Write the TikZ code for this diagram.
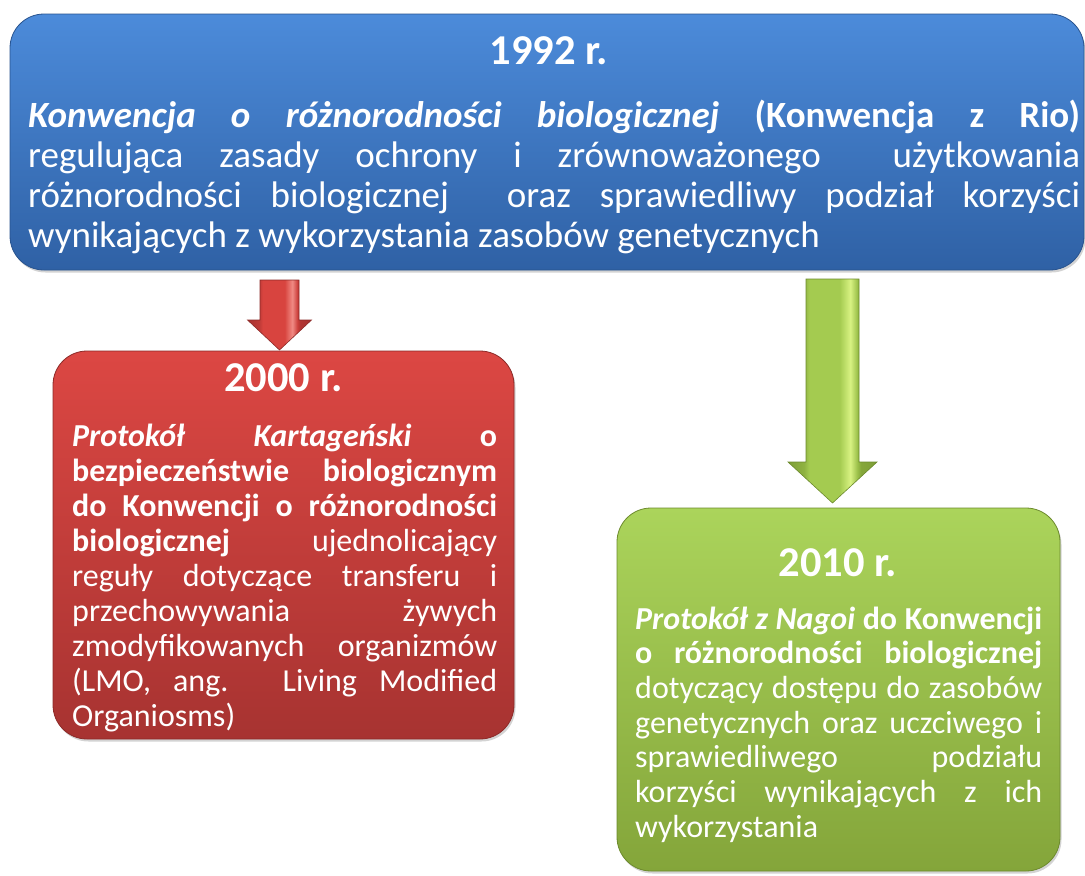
\documentclass[tikz,border=0pt]{standalone}
\usepackage{fontspec}
\setmainfont{Carlito}
\usetikzlibrary{calc,shadows}
\definecolor{bluetop}{HTML}{4C8BDA}
\definecolor{bluebot}{HTML}{2F61A5}
\definecolor{blueedge}{HTML}{28538E}
\definecolor{redtop}{HTML}{DC4743}
\definecolor{redbot}{HTML}{A73331}
\definecolor{rededge}{HTML}{8C2A28}
\definecolor{greentop}{HTML}{ABD45B}
\definecolor{greenbot}{HTML}{84A53A}
\definecolor{greenedge}{HTML}{6C8A2D}
\definecolor{ga}{HTML}{7E9E36}
\definecolor{gb}{HTML}{A4CB50}
\definecolor{gc}{HTML}{D8F282}
\definecolor{ra}{HTML}{A83230}
\definecolor{rb}{HTML}{D8443F}
\definecolor{rc}{HTML}{F08A84}
\pgfdeclarehorizontalshading{garrowshade}{100bp}{color(0bp)=(ga); color(25bp)=(ga); color(34bp)=(ga!55!gb); color(37bp)=(gb); color(54bp)=(gb); color(60bp)=(gc); color(64bp)=(gb!75!ga); color(66bp)=(ga!80!gb); color(75bp)=(ga); color(100bp)=(ga)}
\pgfdeclarehorizontalshading{rarrowshade}{100bp}{color(0bp)=(ra); color(25bp)=(ra); color(34bp)=(ra!55!rb); color(37bp)=(rb); color(54bp)=(rb); color(60bp)=(rc); color(64bp)=(rb!75!ra); color(66bp)=(ra!80!rb); color(75bp)=(ra); color(100bp)=(ra)}
\newlength\bw
\newcommand\jl[1]{\hbox to \bw{#1}}
\newcommand\lastline[1]{\hbox to \bw{#1\hfil}}
\tikzset{
  panel/.style={rounded corners=34pt, inner sep=0pt, line width=0.8pt,
    drop shadow={shadow xshift=1.5pt, shadow yshift=-2.5pt, opacity=0.35}},
  title/.style={anchor=base, inner sep=0pt, text=white,
    font=\fontsize{42.5}{46}\selectfont\bfseries},
  body/.style={anchor=base west, inner sep=0pt, text=white},
  redarrow/.style={shading=rarrowshade, draw=rededge, line width=0.6pt},
  greenarrow/.style={shading=garrowshade, draw=greenedge, line width=0.6pt}
}
\begin{document}
\begin{tikzpicture}[x=1pt,y=-1pt]
\useasboundingbox (0,0) rectangle (1085,876);
% boxes
\node[panel, top color=bluetop, bottom color=bluebot, draw=blueedge,
  minimum width=1074pt, minimum height=256pt] (top) at (547,142) {};
\node[panel, top color=redtop, bottom color=redbot, draw=rededge,
  minimum width=461pt, minimum height=388pt] (red) at (283.5,545) {};
\node[panel, top color=greentop, bottom color=greenbot, draw=greenedge,
  minimum width=443pt, minimum height=363pt] (green) at (838.5,689.5) {};
% arrows
\coordinate (ra1) at (279.5,280);
\coordinate (ra2) at (279.5,350);
\path[redarrow] ($(ra1)+(-19.5,0)$) -- ($(ra1)+(19.5,0)$) -- ($(ra2)+(19.5,-30)$)
  -- ($(ra2)+(32,-30)$) -- (ra2) -- ($(ra2)+(-32,-30)$) -- ($(ra2)+(-19.5,-30)$) -- cycle;
\coordinate (ga1) at (832.5,279);
\coordinate (ga2) at (832.5,503);
\path[greenarrow] ($(ga1)+(-26.5,0)$) -- ($(ga1)+(26.5,0)$) -- ($(ga2)+(26.5,-41)$)
  -- ($(ga2)+(44.5,-41)$) -- (ga2) -- ($(ga2)+(-44.5,-41)$) -- ($(ga2)+(-26.5,-41)$) -- cycle;
% titles
\node[title] (topT) at (549,64) {1992 r.};
\node[title] (redT) at (283.5,391) {2000 r.};
\node[title] (greenT) at (838,576) {2010 r.};
% bodies
\node[body, font=\fontsize{37}{40}\selectfont] (topB) at (28,127) {\vtop{\bw=1052pt
  \baselineskip=40.3pt \lineskiplimit=-100pt
  \jl{\textbf{\textit{Konwencja o różnorodności biologicznej}} \textbf{(Konwencja z Rio)}}
  \jl{regulująca zasady ochrony i zrównoważonego \ użytkowania}
  \jl{różnorodności biologicznej \ oraz sprawiedliwy podział korzyści}
  \lastline{wynikających z wykorzystania zasobów genetycznych}}};
\node[body, font=\fontsize{32}{35}\selectfont] (redB) at (72,446) {\vtop{\bw=425pt
  \baselineskip=35pt \lineskiplimit=-100pt
  \jl{\textbf{\textit{Protokół}} \textbf{\textit{Kartageński}} \textbf{o}}
  \jl{\textbf{bezpieczeństwie biologicznym}}
  \jl{\textbf{do Konwencji o różnorodności}}
  \jl{\textbf{biologicznej} ujednolicający}
  \jl{reguły dotyczące transferu i}
  \jl{przechowywania żywych}
  \jl{zmodyfikowanych organizmów}
  \jl{(LMO, ang. Living Modified}
  \lastline{Organiosms)}}};
\node[body, font=\fontsize{32}{35}\selectfont] (greenB) at (635,629) {\vtop{\bw=407pt
  \baselineskip=34.7pt \lineskiplimit=-100pt
  \jl{\textbf{\textit{Protokół z Nagoi}} \textbf{do Konwencji}}
  \jl{\textbf{o różnorodności biologicznej}}
  \jl{dotyczący dostępu do zasobów}
  \jl{genetycznych oraz uczciwego i}
  \jl{sprawiedliwego podziału}
  \jl{korzyści wynikających z ich}
  \lastline{wykorzystania}}};
\end{tikzpicture}
\end{document}
